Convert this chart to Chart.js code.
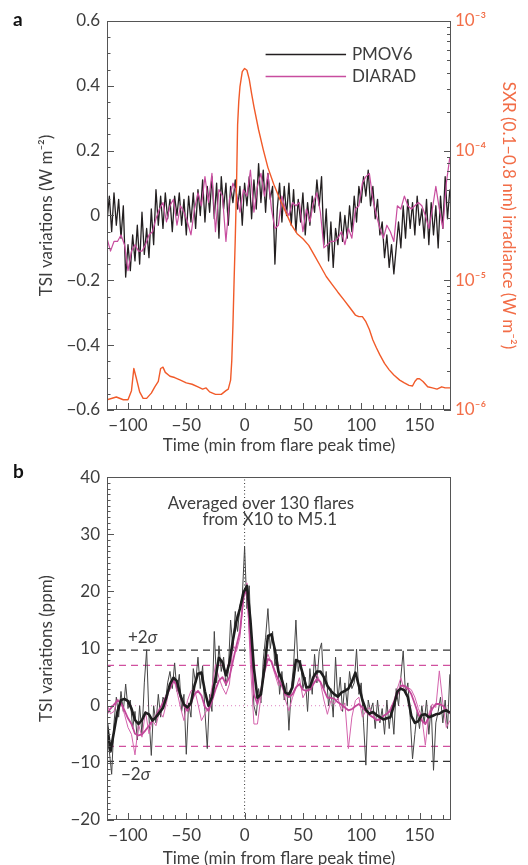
<!DOCTYPE html>
<html>
<head>
<meta charset="utf-8">
<script src="https://cdn.jsdelivr.net/npm/chart.js@4.4.1/dist/chart.umd.min.js"></script>
<style>
  html, body { margin: 0; padding: 0; background: #fff; overflow: hidden; }
  .panel { position: absolute; left: 0; width: 528px; }
  #panelA { top: 0; height: 460px; }
  #panelB { top: 460px; height: 413px; }
</style>
</head>
<body>
<div class="panel" id="panelA"><canvas id="chartA" width="528" height="460"></canvas></div>
<div class="panel" id="panelB"><canvas id="chartB" width="528" height="413"></canvas></div>
<script>
// minutes from flare peak; evenly spaced series start at t0
const t0 = -118;
const tMin = -118, tMax = 177;

// panel a: one flare, TSI in W m-2
const pmovA = [-0.02,0.06,-0.05,0.07,-0.03,0.05,-0.07,0.03,-0.19,-0.09,
  -0.17,-0.06,-0.14,-0.03,-0.15,0.01,-0.12,-0.04,-0.13,0.02,
  -0.09,0.08,-0.03,0.06,-0.04,0.07,-0.01,0.05,-0.05,0.06,
  0.00,0.07,-0.03,0.05,-0.06,0.06,-0.02,0.07,-0.04,0.08,
  0.00,0.11,-0.02,0.09,0.01,0.12,-0.01,0.10,-0.07,0.12,
  0.02,0.10,-0.03,0.09,0.04,0.11,0.02,0.09,-0.03,0.10,
  0.03,0.12,-0.01,0.11,0.02,0.16,0.04,0.14,0.01,0.13,
  0.05,0.09,-0.15,0.02,0.10,-0.02,0.09,0.00,0.10,-0.03,
  0.08,-0.05,0.05,-0.02,0.07,-0.06,0.04,-0.03,0.06,0.01,
  0.11,0.03,0.12,-0.09,0.02,-0.14,-0.02,-0.16,-0.04,-0.09,
  0.01,-0.08,0.00,-0.07,0.03,-0.05,0.06,-0.02,0.09,0.04,
  0.12,0.06,0.14,0.03,0.09,-0.01,0.05,-0.06,-0.02,-0.13,
  -0.06,-0.16,-0.09,-0.18,-0.10,-0.02,-0.10,0.03,-0.07,0.05,
  -0.04,0.04,-0.06,0.06,-0.03,0.02,-0.07,0.05,-0.09,0.04,
  -0.06,0.03,-0.10,0.06,-0.04,0.12,-0.01,0.08]; // every 2 min
const diaradA = [-0.07,-0.11,-0.08,-0.08,-0.06,-0.09,-0.17,-0.11,-0.09,-0.11,
  -0.11,-0.09,-0.06,-0.05,-0.01,0.02,0.04,-0.02,0.03,0.05,
  -0.03,0.03,0.01,-0.02,-0.06,0.02,0.07,0.03,0.12,0.04,
  0.13,-0.05,0.08,0.06,-0.08,0.05,0.10,0.07,0.01,0.08,
  0.06,0.14,0.01,0.09,0.13,0.06,0.13,0.02,-0.04,-0.03,
  0.06,0.02,0.00,0.04,0.03,0.04,-0.05,0.02,-0.02,0.04,
  0.07,0.01,-0.10,-0.09,-0.08,-0.08,-0.07,-0.05,-0.09,-0.04,
  -0.07,0.02,0.03,0.10,0.12,0.13,0.05,0.00,-0.04,-0.07,
  -0.03,-0.05,-0.08,0.03,0.02,0.06,0.03,0.02,0.03,0.04,
  0.03,0.00,-0.04,0.02,0.09,0.02,-0.04,0.10,0.18]; // every 3 min
const sxrTime = [-118,-110,-104,-100,-97,-95,-93,-90,-87,-84,
  -80,-77,-74,-72,-70,-68,-64,-60,-55,-50,
  -45,-40,-36,-33,-30,-25,-20,-16,-14,-12,
  -11,-10,-9,-8,-7,-6,-5,-4,-2,0,
  2,4,6,8,12,16,20,25,30,35,
  40,45,50,55,60,65,70,75,80,85,
  90,95,98,101,104,107,110,113,116,120,
  124,128,133,137,141,144,146,148,150,153,
  157,161,165,169,172,177];
const sxrFlux = [1.20e-6,1.26e-6,1.20e-6,1.20e-6,1.41e-6,2.09e-6,1.78e-6,1.38e-6,1.23e-6,1.23e-6,
  1.35e-6,1.51e-6,1.66e-6,2.09e-6,2.14e-6,1.95e-6,1.82e-6,1.78e-6,1.70e-6,1.62e-6,
  1.58e-6,1.51e-6,1.45e-6,1.48e-6,1.38e-6,1.32e-6,1.32e-6,1.41e-6,1.45e-6,1.70e-6,
  2.4e-6,4.5e-6,1.0e-5,2.1e-5,5.0e-5,1.58e-4,2.4e-4,3.1e-4,4.07e-4,4.3e-4,
  4.17e-4,3.55e-4,2.75e-4,2.19e-4,1.45e-4,1.02e-4,7.4e-5,5.5e-5,4.27e-5,3.39e-5,
  2.69e-5,2.29e-5,2.09e-5,1.86e-5,1.55e-5,1.29e-5,1.07e-5,9.3e-6,8.1e-6,7.1e-6,
  6.2e-6,5.4e-6,5.25e-6,5.25e-6,4.8e-6,4.17e-6,3.47e-6,3.02e-6,2.66e-6,2.29e-6,
  2.04e-6,1.86e-6,1.70e-6,1.62e-6,1.55e-6,1.53e-6,1.66e-6,1.74e-6,1.74e-6,1.66e-6,
  1.51e-6,1.48e-6,1.45e-6,1.51e-6,1.48e-6,1.48e-6]; // W m-2

// panel b: average of 130 flares, ppm
const pmovB = [-6,-8,-12,-3,1.5,-2,2.5,-1,3.8,-0.5,
  1.0,-4,-1,-6,0,-5,4,9.8,-2,-8.7,
  0,-3,2,-2,1.5,0.5,4.0,6.0,3.0,7.5,
  2.5,5.5,-1,2,-8.5,0.5,-2,6.5,4,8.5,
  3,7,-1,-7.5,2,-1,13.0,4,10.5,6,
  8.5,3.5,6,15,10,16.5,13,17.5,19,27.8,
  17,21,9,0,-1.7,3,0.5,8,12,17,
  10,13,7,9,2,6,1,4,-4.3,3,
  7,15,6,8,3,5,-1,6.5,2,9,
  4,9.5,11,3,6,0,3,-2,8.5,1,
  5,-1,4,0,6,3,4,9.9,2,4,
  -3,-10.4,1.0,-1,0.5,-4,1,-3,-0.5,-5,
  1,-4,0,-5,3,0,5,9.6,2,4,
  -2,-9.3,-5,-1,-4,0,-3,1,-5,0,
  -11.3,-3,-1,1.5,-3,1,-4,5.5]; // every 2 min
const pmovBSmooth = [-3.2,-8.0,-4.5,-1.0,1.0,1.2,0.8,-0.5,-2.5,-3.2,
  -2.5,-1.2,-1.5,-2.6,-2.0,-1.2,-0.4,1.5,3.8,4.9,
  4.3,1.8,0.2,-0.3,0.5,3.5,5.6,5.8,2.5,0.0,
  1.5,4.8,8.4,7.6,5.3,7.5,11.5,14.8,17.0,19.8,
  21.0,15.0,6.5,1.4,2.0,6.5,12.2,12.5,9.8,6.0,
  4.5,2.3,2.0,3.2,8.0,7.7,5.5,3.2,3.3,5.0,
  6.0,6.0,5.0,3.5,2.6,2.0,1.6,2.3,2.6,3.0,
  4.2,5.8,3.5,1.0,-0.7,-1.4,-1.1,-1.6,-2.0,-2.4,
  -2.2,-2.0,0.0,2.5,3.0,2.7,1.5,-1.8,-3.0,-2.7,
  -1.6,-1.5,-2.0,-1.8,-1.5,-1.4,-1.0,-0.8,-1.2]; // every 3 min
const diaradB = [0.3,-1.4,-1.0,1.2,0.5,-1.5,-3.8,-5.0,-8.6,-3.2,
  -5.5,-1.0,-4.9,-2.6,-3.5,-1.0,-2.0,0.5,3.8,4.9,
  2.5,-0.3,-2.6,0.9,2.6,3.0,0.3,-2.6,-1.4,-0.3,
  3.2,7.2,4.9,3.2,2.0,3.8,10.7,9.5,12.0,18.5,
  21.5,7.2,-3.2,-3.2,1.5,7.0,9.0,7.5,5.5,3.5,
  4.5,1.0,-0.9,1.4,3.0,4.9,1.4,2.6,3.4,4.5,
  5.5,4.0,1.0,-1.5,0.9,0.3,1.4,-0.9,0.5,-7.5,
  -2.0,0.9,1.5,-2.0,-0.9,-0.3,-1.5,-2.6,-2.6,-1.8,
  -1.4,-0.5,0.9,3.0,4.9,2.6,3.2,2.8,1.5,-0.5,
  -2.0,-6.9,-1.4,0.3,-0.3,6.1,0.5,-3.8,-2.6]; // every 3 min
const diaradBSmooth = [-1.4,-0.5,0.2,0.9,0.5,-0.8,-2.2,-3.2,-4.9,-5.2,
  -5.0,-4.3,-3.5,-2.6,-1.8,-0.6,0.5,1.8,3.0,4.4,
  3.6,1.5,0.0,-0.9,0.5,2.0,2.6,1.8,-0.2,-0.9,
  0.8,2.8,4.4,5.0,3.8,5.0,7.8,10.5,13.0,19.0,
  20.5,11.0,2.0,0.3,2.5,6.0,8.2,7.8,6.0,4.5,
  3.5,2.0,1.5,2.0,3.2,3.8,2.8,2.6,2.8,3.8,
  4.7,4.2,2.8,1.4,1.4,1.2,0.6,0.2,-0.3,-0.8,
  -0.6,-0.1,0.3,-0.3,-1.0,-1.6,-2.0,-2.5,-2.3,-1.8,
  -1.4,-0.9,0.5,2.0,3.5,3.5,3.0,2.0,0.3,-1.5,
  -2.6,-3.2,-2.0,-0.5,0.3,0.3,0.0,-0.7,-1.4]; // every 3 min
const sigmaPmov = [9.75, -9.75];
const sigmaDiarad = [7.05, -7.1];

const ink = '#3d3d3d';
const frameColor = '#555';
const black = '#231f20';
const magenta = '#c84d9f';
const orange = '#f15a29';
const orangeText = '#f26d47';
const family = "Lato, 'DejaVu Sans', sans-serif";

function series(vals, step) {
  return vals.map((v, i) => ({ x: t0 + i * step, y: v }));
}
function hline(y) {
  return [{ x: tMin, y: y }, { x: tMax, y: y }];
}
function minus(v) {
  return v < 0 ? '\u2212' + Math.abs(v) : String(v);
}
const sup = { '3': '\u00B3', '4': '\u2074', '5': '\u2075', '6': '\u2076' };
function powLabel(v) {
  const e = Math.log10(v);
  if (Math.abs(e - Math.round(e)) > 1e-6) return '';
  return '10\u207B' + sup[String(-Math.round(e))];
}

// box round the plot, with ticks pointing inwards
const framePlugin = {
  id: 'frame',
  afterDatasetsDraw(chart, args, o) {
    const { ctx, chartArea: a } = chart;
    ctx.save();
    ctx.strokeStyle = frameColor;
    ctx.lineWidth = 1;
    ctx.strokeRect(Math.round(a.left) + 0.5, Math.round(a.top) + 0.5,
      Math.round(a.width) - 1, Math.round(a.height) - 1);
    ctx.beginPath();
    const x = chart.scales.x;
    for (let v = Math.ceil(x.min / 10) * 10; v <= x.max; v += 10) {
      const p = Math.round(x.getPixelForValue(v)) + 0.5;
      ctx.moveTo(p, a.bottom);
      ctx.lineTo(p, a.bottom - (v % 50 === 0 ? 7 : 5));
    }
    const y = chart.scales.y;
    const n = Math.round((y.max - y.min) / o.yMinor);
    for (let i = 0; i <= n; i++) {
      const p = Math.round(y.getPixelForValue(y.min + i * o.yMinor)) + 0.5;
      ctx.moveTo(a.left, p);
      ctx.lineTo(a.left + (i % o.yEvery === 0 ? 7 : 3.5), p);
    }
    const y2 = chart.scales.y2;
    if (y2) {
      const e0 = Math.round(Math.log10(y2.min)), e1 = Math.round(Math.log10(y2.max));
      for (let e = e0; e <= e1; e++) {
        for (let s = 1; s < 10; s++) {
          const v = s * Math.pow(10, e);
          if (v > y2.max * 1.0001) break;
          const p = Math.round(y2.getPixelForValue(v)) + 0.5;
          ctx.moveTo(a.right, p);
          ctx.lineTo(a.right - (s === 1 ? 7 : 4), p);
        }
      }
    }
    ctx.stroke();
    ctx.restore();
  }
};

// panel letter, free text and the line key
const notesPlugin = {
  id: 'notes',
  afterDraw(chart, args, o) {
    const { ctx } = chart;
    const x = chart.scales.x, y = chart.scales.y;
    ctx.save();
    ctx.fillStyle = '#111';
    ctx.font = 'bold 19px ' + family;
    ctx.textBaseline = 'alphabetic';
    ctx.fillText(o.letter, 13, o.letterY);
    ctx.fillStyle = ink;
    (o.items || []).forEach(it => {
      let px = x.getPixelForValue(it.x);
      const py = y.getPixelForValue(it.y);
      it.parts.forEach(([txt, italic]) => {
        ctx.font = (italic ? 'italic ' : '') + '17px ' + family;
        ctx.fillText(txt, px, py);
        px += ctx.measureText(txt).width;
      });
    });
    if (o.key) {
      const k = o.key;
      ctx.font = '17px ' + family;
      ctx.textBaseline = 'middle';
      k.rows.forEach(r => {
        const ds = chart.data.datasets.find(d => d.label === r.label);
        const py = Math.round(y.getPixelForValue(r.y)) + 0.5;
        ctx.strokeStyle = ds.borderColor;
        ctx.lineWidth = 1.3;
        ctx.beginPath();
        ctx.moveTo(x.getPixelForValue(k.x0), py);
        ctx.lineTo(x.getPixelForValue(k.x1), py);
        ctx.stroke();
        ctx.fillStyle = ink;
        ctx.fillText(r.label, x.getPixelForValue(k.xText), py);
      });
    }
    ctx.restore();
  }
};

const tickFont = { family: family, size: 17 };
const noGrid = { display: false, drawTicks: false, tickLength: 0 };

function xAxis(height) {
  return {
    type: 'linear', min: tMin, max: tMax,
    grid: noGrid, border: { display: false },
    ticks: { stepSize: 50, includeBounds: false, autoSkip: false, maxRotation: 0,
      padding: 5, color: ink, font: tickFont, callback: v => minus(v) },
    title: { display: true, text: 'Time (min from flare peak time)', color: ink,
      font: tickFont, padding: { top: 0, bottom: 4 } },
    afterFit: s => { s.height = height; }
  };
}

const common = {
  responsive: false,
  devicePixelRatio: 1,
  animation: false,
  events: [],
  elements: { point: { radius: 0 }, line: { tension: 0, borderJoinStyle: 'round', fill: false } }
};

new Chart(document.getElementById('chartA'), {
  type: 'line',
  data: {
    datasets: [
      { label: 'SXR', yAxisID: 'y2', borderColor: orange, borderWidth: 1.4,
        data: sxrTime.map((t, i) => ({ x: t, y: sxrFlux[i] })) },
      { label: 'DIARAD', yAxisID: 'y', borderColor: magenta, borderWidth: 1.2, data: series(diaradA, 3) },
      { label: 'PMOV6', yAxisID: 'y', borderColor: black, borderWidth: 1.3, data: series(pmovA, 2) }
    ]
  },
  options: Object.assign({}, common, {
    layout: { padding: { left: 32, top: 21, right: 0, bottom: 0 } },
    scales: {
      x: xAxis(50),
      y: {
        min: -0.6, max: 0.6,
        grid: noGrid, border: { display: false },
        ticks: { stepSize: 0.2, autoSkip: false, padding: 7, color: ink, font: tickFont,
          callback: v => minus(Math.round(v * 10) / 10) },
        title: { display: true, text: 'TSI variations (W m\u207B\u00B2)', color: ink, font: tickFont,
          padding: { top: 4, bottom: 4 } },
        afterFit: s => { s.width = 75; }
      },
      y2: {
        type: 'logarithmic', position: 'right', min: 1e-6, max: 1e-3,
        grid: noGrid, border: { display: false },
        ticks: { autoSkip: false, padding: 4, color: orangeText, font: tickFont, callback: v => powLabel(v) },
        title: { display: true, text: 'SXR (0.1\u20130.8 nm) irradiance (W m\u207B\u00B2)', color: orangeText,
          font: tickFont, padding: { top: 9, bottom: 4 } },
        afterFit: s => { s.width = 77; }
      }
    },
    plugins: {
      legend: { display: false },
      tooltip: { enabled: false },
      frame: { yMinor: 0.05, yEvery: 4 },
      notes: {
        letter: 'a', letterY: 26,
        key: { x0: 18, x1: 87, xText: 92, rows: [{ label: 'PMOV6', y: 0.499 }, { label: 'DIARAD', y: 0.431 }] }
      }
    }
  }),
  plugins: [framePlugin, notesPlugin]
});

new Chart(document.getElementById('chartB'), {
  type: 'line',
  data: {
    datasets: [
      { label: 'PMOV6 smoothed', borderColor: '#1e1e1e', borderWidth: 2.6, data: series(pmovBSmooth, 3) },
      { label: 'DIARAD smoothed', borderColor: '#c3479a', borderWidth: 1.8, data: series(diaradBSmooth, 3) },
      { label: 'DIARAD', borderColor: '#d464ad', borderWidth: 1, data: series(diaradB, 3) },
      { label: 'PMOV6', borderColor: '#454545', borderWidth: 1, data: series(pmovB, 2) },
      { label: '+2s PMOV6', borderColor: '#333', borderWidth: 1.3, borderDash: [7, 5], data: hline(sigmaPmov[0]) },
      { label: '-2s PMOV6', borderColor: '#333', borderWidth: 1.3, borderDash: [7, 5], data: hline(sigmaPmov[1]) },
      { label: '+2s DIARAD', borderColor: '#d0509f', borderWidth: 1.3, borderDash: [7, 5], data: hline(sigmaDiarad[0]) },
      { label: '-2s DIARAD', borderColor: '#d0509f', borderWidth: 1.3, borderDash: [7, 5], data: hline(sigmaDiarad[1]) },
      { label: 'zero', borderColor: '#dd7fbf', borderWidth: 1, borderDash: [1, 3], data: hline(0) },
      { label: 'peak', borderColor: '#333', borderWidth: 1, borderDash: [1, 2.5], data: [{ x: 0, y: -20 }, { x: 0, y: 40 }] }
    ]
  },
  options: Object.assign({}, common, {
    layout: { padding: { left: 32, top: 15, right: 77, bottom: 0 } },
    scales: {
      x: xAxis(53),
      y: {
        min: -20, max: 40,
        grid: noGrid, border: { display: false },
        ticks: { stepSize: 10, autoSkip: false, padding: 7, color: ink, font: tickFont, callback: v => minus(v) },
        title: { display: true, text: 'TSI variations (ppm)', color: ink, font: tickFont,
          padding: { top: 4, bottom: 4 } },
        afterFit: s => { s.width = 75; }
      }
    },
    plugins: {
      legend: { display: false },
      tooltip: { enabled: false },
      frame: { yMinor: 1, yEvery: 10 },
      notes: {
        letter: 'b', letterY: 18,
        items: [
          { parts: [['Averaged over 130 flares', false]], x: -66, y: 34.5 },
          { parts: [['from X10 to M5.1', false]], x: -36, y: 31.6 },
          { parts: [['+2', false], ['\u03C3', true]], x: -100, y: 11.0 },
          { parts: [['\u22122', false], ['\u03C3', true]], x: -106, y: -13.0 }
        ]
      }
    }
  }),
  plugins: [framePlugin, notesPlugin]
});
</script>
</body>
</html>
